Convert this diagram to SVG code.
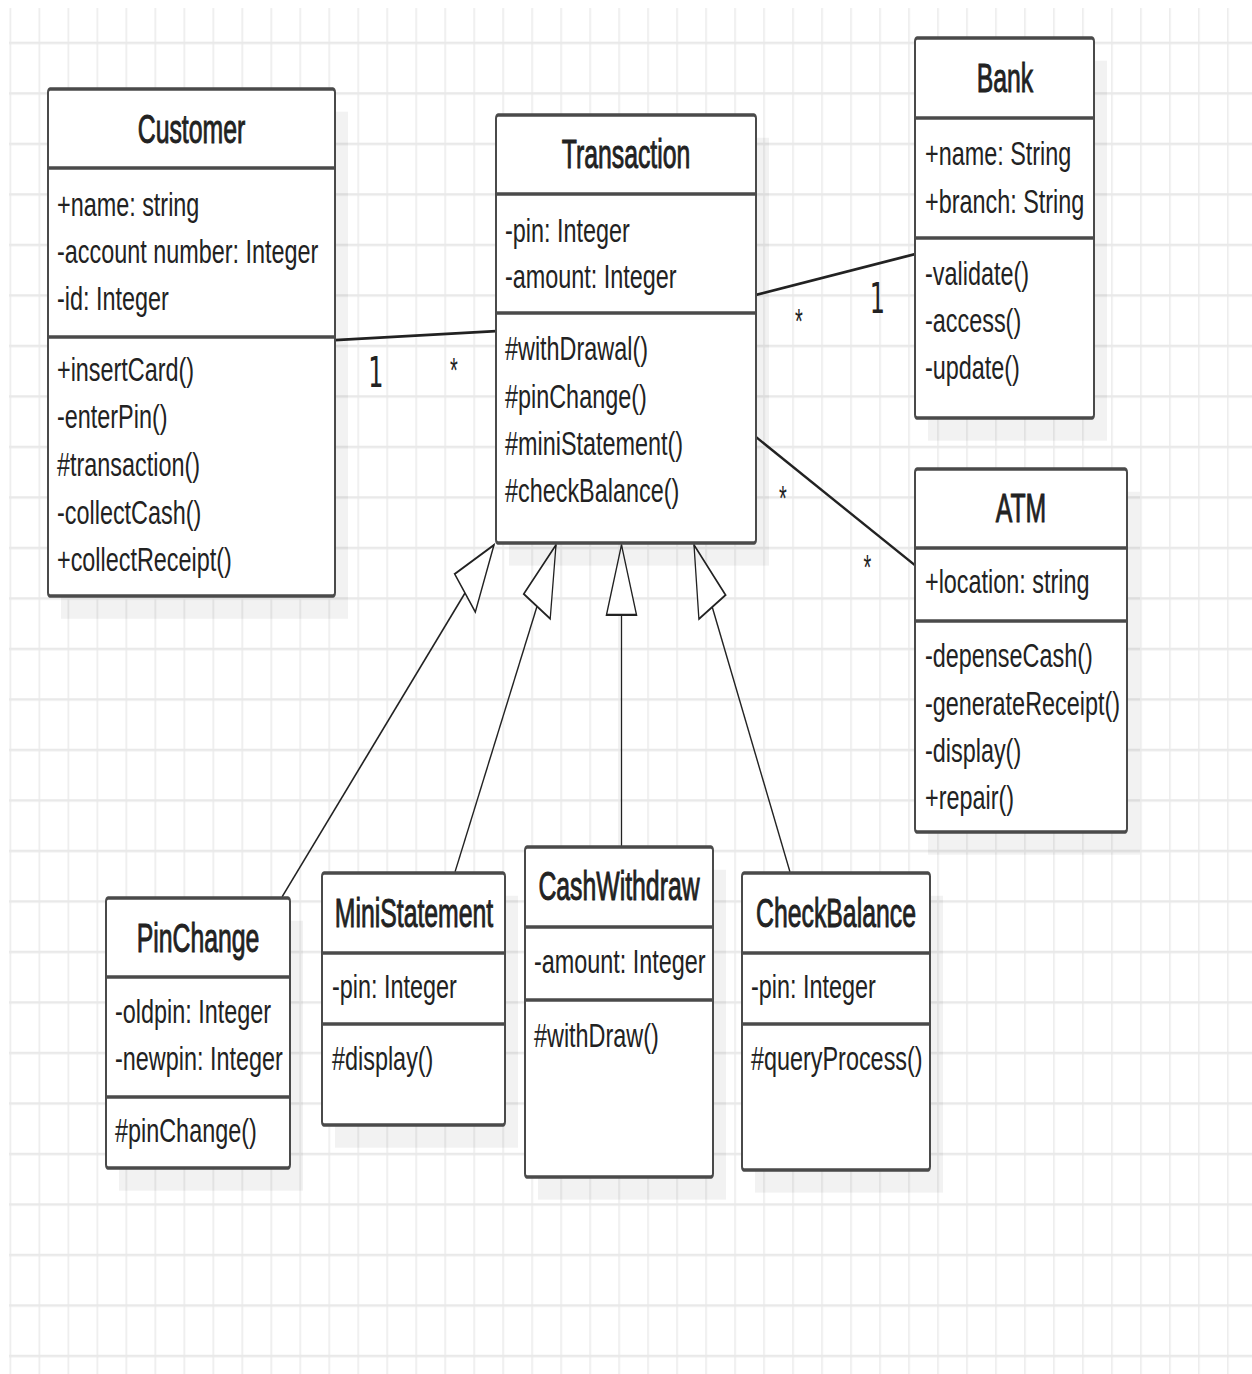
<svg xmlns="http://www.w3.org/2000/svg" width="1252" height="1374" viewBox="0 0 1252 1374">
  <style>
    .box { fill: #ffffff; stroke: #4a4a4a; stroke-width: 2; }
    .shadow { fill: #000000; fill-opacity: 0.05; }
    .div { stroke: #4a4a4a; stroke-width: 2; }
    .h { font-family: "Liberation Sans", Arial, sans-serif; font-size: 23.4px; fill: #222222; stroke: #222222; stroke-width: 0.55; text-anchor: middle; }
    .a { font-family: "Liberation Sans", Arial, sans-serif; font-size: 19.5px; fill: #222222; }
    .assoc { fill: none; stroke: #222222; stroke-width: 1.6; }
    .gen { fill: none; stroke: #222222; stroke-width: 1.3; marker-end: url(#hollow); }
    .one { font-family: "DejaVu Sans", sans-serif; font-size: 24px; fill: #222222; text-anchor: middle; }
    .many { font-family: "Liberation Sans", Arial, sans-serif; font-size: 20px; fill: #222222; text-anchor: middle; }
  </style>
  <defs>
    <pattern id="grid" patternUnits="userSpaceOnUse" x="9.6" y="23.86" width="28.99" height="28.9">
      <path d="M0.7,0 V28.9 M0,0.7 H28.99" fill="none" stroke="#e9e9e9" stroke-width="1.4"/>
    </pattern>
    <marker id="hollow" viewBox="0 0 40 30" refX="40" refY="15" markerWidth="40" markerHeight="30" markerUnits="userSpaceOnUse" orient="auto" overflow="visible">
      <path d="M0,0 L40,15 L0,30 Z" fill="#ffffff" stroke="#222222" stroke-width="1.3" stroke-linejoin="miter"/>
    </marker>
  </defs>

  <rect width="1252" height="1374" fill="#ffffff"/>

  <!-- the whole sheet is drawn on a square grid and stretched vertically -->
  <g transform="scale(1 1.7475)">
    <rect x="9" y="4.6" width="1243" height="782" fill="url(#grid)"/>

    <g id="connectors">
      <line class="assoc" x1="335" y1="194.6" x2="496" y2="189.5"/>
      <line class="assoc" x1="756" y1="168.8" x2="915" y2="145.4"/>
      <line class="assoc" x1="756" y1="250.1" x2="915" y2="323.5"/>
      <line class="gen" x1="282" y1="513.3" x2="494" y2="311.8"/>
      <line class="gen" x1="455" y1="499.0" x2="556" y2="311.8"/>
      <line class="gen" x1="621.5" y1="484.7" x2="621.5" y2="311.8"/>
      <line class="gen" x1="790" y1="499.0" x2="694" y2="311.8"/>
      <text class="one" x="376" y="221.3">1</text>
      <text class="many" x="454" y="218.5">*</text>
      <text class="many" x="799" y="190.6">*</text>
      <text class="one" x="877.5" y="179.3">1</text>
      <text class="many" x="783" y="291.7">*</text>
      <text class="many" x="867.5" y="331.4">*</text>
    </g>

    <g id="customer">
      <rect class="shadow" x="61" y="63.9" width="287" height="290.2"/>
      <rect class="box" x="48" y="50.9" width="287" height="290.2" rx="2"/>
      <line class="div" x1="48" y1="96.1" x2="335" y2="96.1"/>
      <line class="div" x1="48" y1="192.8" x2="335" y2="192.8"/>
      <text class="h" transform="translate(191.5 81.8) scale(1.06 1)">Customer</text>
      <text class="a" transform="translate(57 123.6) scale(1.2 1)">+name: string</text>
      <text class="a" transform="translate(57 150.5) scale(1.2 1)">-account number: Integer</text>
      <text class="a" transform="translate(57 177.4) scale(1.2 1)">-id: Integer</text>
      <text class="a" transform="translate(57 218.0) scale(1.2 1)">+insertCard()</text>
      <text class="a" transform="translate(57 245.0) scale(1.2 1)">-enterPin()</text>
      <text class="a" transform="translate(57 272.3) scale(1.2 1)">#transaction()</text>
      <text class="a" transform="translate(57 299.6) scale(1.2 1)">-collectCash()</text>
      <text class="a" transform="translate(57 326.9) scale(1.2 1)">+collectReceipt()</text>
    </g>

    <g id="transaction">
      <rect class="shadow" x="509" y="78.8" width="260" height="244.9"/>
      <rect class="box" x="496" y="65.8" width="260" height="244.9" rx="2"/>
      <line class="div" x1="496" y1="111.0" x2="756" y2="111.0"/>
      <line class="div" x1="496" y1="179.1" x2="756" y2="179.1"/>
      <text class="h" transform="translate(626 96.1) scale(1.06 1)">Transaction</text>
      <text class="a" transform="translate(505 138.5) scale(1.2 1)">-pin: Integer</text>
      <text class="a" transform="translate(505 164.8) scale(1.2 1)">-amount: Integer</text>
      <text class="a" transform="translate(505 206.0) scale(1.2 1)">#withDrawal()</text>
      <text class="a" transform="translate(505 233.2) scale(1.2 1)">#pinChange()</text>
      <text class="a" transform="translate(505 260.4) scale(1.2 1)">#miniStatement()</text>
      <text class="a" transform="translate(505 287.5) scale(1.2 1)">#checkBalance()</text>
    </g>

    <g id="bank">
      <rect class="shadow" x="928" y="34.7" width="179" height="217.5"/>
      <rect class="box" x="915" y="21.7" width="179" height="217.5" rx="2"/>
      <line class="div" x1="915" y1="67.5" x2="1094" y2="67.5"/>
      <line class="div" x1="915" y1="136.2" x2="1094" y2="136.2"/>
      <text class="h" transform="translate(1005 52.6) scale(1.06 1)">Bank</text>
      <text class="a" transform="translate(925 94.4) scale(1.2 1)">+name: String</text>
      <text class="a" transform="translate(925 121.9) scale(1.2 1)">+branch: String</text>
      <text class="a" transform="translate(925 163.1) scale(1.2 1)">-validate()</text>
      <text class="a" transform="translate(925 190.1) scale(1.2 1)">-access()</text>
      <text class="a" transform="translate(925 216.6) scale(1.2 1)">-update()</text>
    </g>

    <g id="atm">
      <rect class="shadow" x="928" y="281.4" width="212" height="207.7"/>
      <rect class="box" x="915" y="268.4" width="212" height="207.7" rx="2"/>
      <line class="div" x1="915" y1="313.6" x2="1127" y2="313.6"/>
      <line class="div" x1="915" y1="355.4" x2="1127" y2="355.4"/>
      <text class="h" transform="translate(1021 298.7) scale(1.06 1)">ATM</text>
      <text class="a" transform="translate(925 339.3) scale(1.2 1)">+location: string</text>
      <text class="a" transform="translate(925 381.7) scale(1.2 1)">-depenseCash()</text>
      <text class="a" transform="translate(925 409.0) scale(1.2 1)">-generateReceipt()</text>
      <text class="a" transform="translate(925 436.1) scale(1.2 1)">-display()</text>
      <text class="a" transform="translate(925 462.8) scale(1.2 1)">+repair()</text>
    </g>

    <g id="pinchange">
      <rect class="shadow" x="119" y="526.9" width="184" height="154.5"/>
      <rect class="box" x="106" y="513.9" width="184" height="154.5" rx="2"/>
      <line class="div" x1="106" y1="559.1" x2="290" y2="559.1"/>
      <line class="div" x1="106" y1="627.8" x2="290" y2="627.8"/>
      <text class="h" transform="translate(198 544.8) scale(1.06 1)">PinChange</text>
      <text class="a" transform="translate(115 585.4) scale(1.2 1)">-oldpin: Integer</text>
      <text class="a" transform="translate(115 612.3) scale(1.2 1)">-newpin: Integer</text>
      <text class="a" transform="translate(115 653.5) scale(1.2 1)">#pinChange()</text>
    </g>

    <g id="ministatement">
      <rect class="shadow" x="335" y="512.6" width="183" height="144.2"/>
      <rect class="box" x="322" y="499.6" width="183" height="144.2" rx="2"/>
      <line class="div" x1="322" y1="545.4" x2="505" y2="545.4"/>
      <line class="div" x1="322" y1="586.0" x2="505" y2="586.0"/>
      <text class="h" transform="translate(414 530.5) scale(1.06 1)">MiniStatement</text>
      <text class="a" transform="translate(332 571.1) scale(1.2 1)">-pin: Integer</text>
      <text class="a" transform="translate(332 612.3) scale(1.2 1)">#display()</text>
    </g>

    <g id="cashwithdraw">
      <rect class="shadow" x="538" y="497.7" width="188" height="188.8"/>
      <rect class="box" x="525" y="484.7" width="188" height="188.8" rx="2"/>
      <line class="div" x1="525" y1="530.5" x2="713" y2="530.5"/>
      <line class="div" x1="525" y1="572.2" x2="713" y2="572.2"/>
      <text class="h" transform="translate(619 515.0) scale(1.06 1)">CashWithdraw</text>
      <text class="a" transform="translate(534 556.8) scale(1.2 1)">-amount: Integer</text>
      <text class="a" transform="translate(534 599.1) scale(1.2 1)">#withDraw()</text>
    </g>

    <g id="checkbalance">
      <rect class="shadow" x="755" y="512.6" width="188" height="169.9"/>
      <rect class="box" x="742" y="499.6" width="188" height="169.9" rx="2"/>
      <line class="div" x1="742" y1="545.4" x2="930" y2="545.4"/>
      <line class="div" x1="742" y1="586.0" x2="930" y2="586.0"/>
      <text class="h" transform="translate(836 530.5) scale(1.06 1)">CheckBalance</text>
      <text class="a" transform="translate(751 571.1) scale(1.2 1)">-pin: Integer</text>
      <text class="a" transform="translate(751 612.3) scale(1.2 1)">#queryProcess()</text>
    </g>
  </g>
</svg>
